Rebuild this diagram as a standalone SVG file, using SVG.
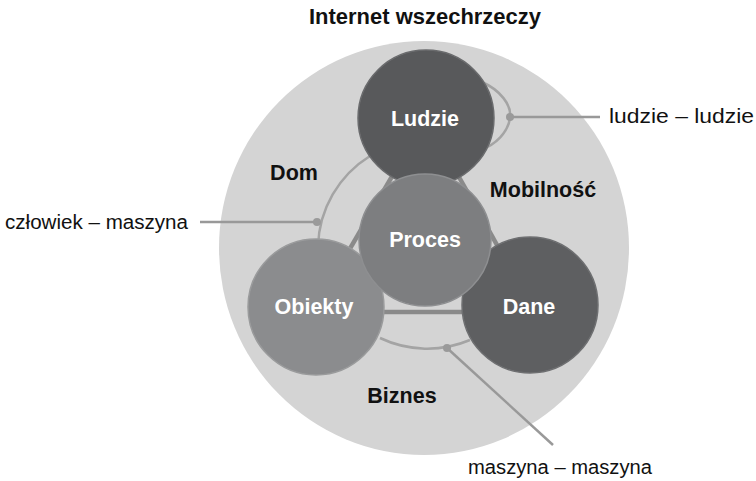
<svg xmlns="http://www.w3.org/2000/svg" width="756" height="481" viewBox="0 0 756 481">
<style>
.lbl{font-family:"Liberation Sans",Arial,sans-serif;font-weight:bold;font-size:21.5px;text-anchor:middle}
.in{fill:#ffffff}
.out{fill:#111111}
.cap{font-family:"Liberation Sans",Arial,sans-serif;font-size:20px;fill:#111111}
.tri{stroke:#8a8a8a;stroke-width:4.5;fill:none}
.arc{stroke:#a4a4a4;stroke-width:2.5;fill:none}
.lead{stroke:#999999;stroke-width:2.5;fill:none}
.dot{fill:#9a9a9a}
</style>
<rect width="756" height="481" fill="#ffffff"/>
<text class="lbl out" x="425" y="24" textLength="232" lengthAdjust="spacingAndGlyphs">Internet wszechrzeczy</text>
<g id="outer"><ellipse cx="424" cy="248" rx="205" ry="207" fill="#d4d4d4"/></g>
<g id="connectors">
<line class="tri" x1="426" y1="118" x2="316" y2="307"/>
<line class="tri" x1="426" y1="118" x2="530" y2="304"/>
<line class="tri" x1="316" y1="312" x2="530" y2="312"/>
<path class="arc" d="M 370 156 A 110 110 0 0 0 318 246"/>
<path class="arc" d="M 380 338 A 110 110 0 0 0 470 340"/>
<path class="arc" d="M 482 82 C 500 90 512 105 510 118 C 508 132 496 145 480 150"/>
<line class="lead" x1="510" y1="117" x2="600" y2="117"/>
<line class="lead" x1="200" y1="222" x2="317" y2="222"/>
<line class="lead" x1="447" y1="348" x2="553" y2="445"/>
<circle class="dot" cx="510" cy="117" r="4"/>
<circle class="dot" cx="317" cy="222" r="4"/>
<circle class="dot" cx="447" cy="348" r="4"/>
</g>
<g id="ludzie"><circle cx="426" cy="118" r="68" fill="#58595b" stroke="#6a6b6d" stroke-width="1.5"/><text class="lbl in" x="425" y="126">Ludzie</text></g>
<g id="obiekty"><circle cx="316" cy="307" r="68" fill="#8b8c8e" stroke="#9a9b9c" stroke-width="1.5"/><text class="lbl in" x="314" y="314">Obiekty</text></g>
<g id="dane"><circle cx="530" cy="305" r="68" fill="#5e5f61" stroke="#6e6f71" stroke-width="1.5"/><text class="lbl in" x="529" y="314">Dane</text></g>
<g id="proces"><circle cx="425" cy="240" r="66" fill="#7d7e80" stroke="#8e8f91" stroke-width="1.5"/><text class="lbl in" x="425" y="247">Proces</text></g>
<text class="lbl out" x="294" y="180">Dom</text>
<text class="lbl out" x="543" y="197">Mobilność</text>
<text class="lbl out" x="402" y="403">Biznes</text>
<text class="cap" x="609" y="123" textLength="145" lengthAdjust="spacingAndGlyphs">ludzie – ludzie</text>
<text class="cap" x="5" y="229" textLength="183" lengthAdjust="spacingAndGlyphs">człowiek – maszyna</text>
<text class="cap" x="468" y="474" textLength="184" lengthAdjust="spacingAndGlyphs">maszyna – maszyna</text>
</svg>
